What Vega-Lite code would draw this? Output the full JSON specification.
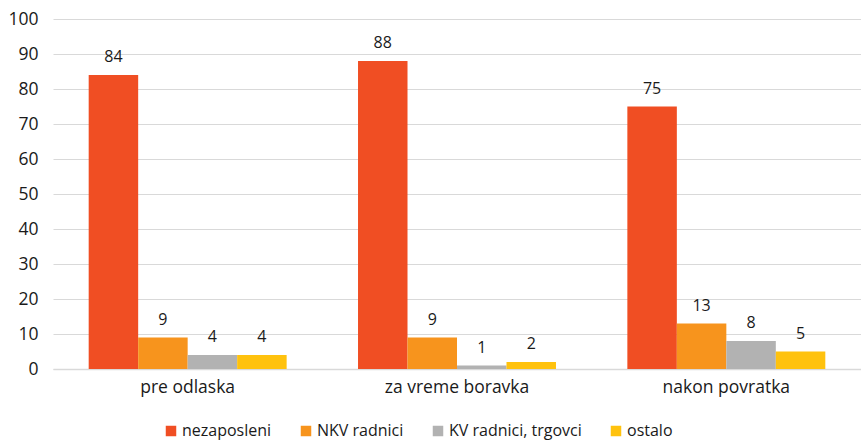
{
  "$schema": "https://vega.github.io/schema/vega-lite/v6.json",
  "width": 808,
  "height": 350,
  "autosize": {"type": "none"},
  "padding": {"left": 53, "top": 19, "right": 0, "bottom": 76},
  "background": "white",
  "config": {
    "font": "Open Sans",
    "view": {"stroke": null}
  },
  "data": {
    "values": [
      {"period": "pre odlaska", "group": "nezaposleni", "value": 84},
      {"period": "pre odlaska", "group": "NKV radnici", "value": 9},
      {"period": "pre odlaska", "group": "KV radnici, trgovci", "value": 4},
      {"period": "pre odlaska", "group": "ostalo", "value": 4},
      {"period": "za vreme boravka", "group": "nezaposleni", "value": 88},
      {"period": "za vreme boravka", "group": "NKV radnici", "value": 9},
      {"period": "za vreme boravka", "group": "KV radnici, trgovci", "value": 1},
      {"period": "za vreme boravka", "group": "ostalo", "value": 2},
      {"period": "nakon povratka", "group": "nezaposleni", "value": 75},
      {"period": "nakon povratka", "group": "NKV radnici", "value": 13},
      {"period": "nakon povratka", "group": "KV radnici, trgovci", "value": 8},
      {"period": "nakon povratka", "group": "ostalo", "value": 5}
    ]
  },
  "encoding": {
    "x": {
      "field": "period",
      "type": "nominal",
      "sort": ["pre odlaska", "za vreme boravka", "nakon povratka"],
      "scale": {"paddingInner": 0.265, "paddingOuter": 0.1325},
      "axis": {
        "title": null,
        "labelAngle": 0,
        "labelFontSize": 17.5,
        "labelColor": "#1a1a1a",
        "labelPadding": 9,
        "ticks": false,
        "domainColor": "#d9d9d9",
        "domainWidth": 1.5,
        "grid": false
      }
    },
    "xOffset": {
      "field": "group",
      "type": "nominal",
      "sort": ["nezaposleni", "NKV radnici", "KV radnici, trgovci", "ostalo"],
      "scale": {"paddingInner": 0, "paddingOuter": 0}
    },
    "y": {
      "field": "value",
      "type": "quantitative",
      "scale": {"domain": [0, 100], "nice": false},
      "axis": {
        "title": null,
        "values": [0, 10, 20, 30, 40, 50, 60, 70, 80, 90, 100],
        "labelOverlap": false,
        "labelFontSize": 17.5,
        "labelColor": "#1a1a1a",
        "labelPadding": 15,
        "ticks": false,
        "domain": false,
        "gridColor": "#d9d9d9",
        "gridWidth": 1.2
      }
    }
  },
  "layer": [
    {
      "mark": {"type": "bar"},
      "encoding": {
        "color": {
          "field": "group",
          "type": "nominal",
          "sort": ["nezaposleni", "NKV radnici", "KV radnici, trgovci", "ostalo"],
          "scale": {
            "domain": ["nezaposleni", "NKV radnici", "KV radnici, trgovci", "ostalo"],
            "range": ["#F04E23", "#F7941D", "#B2B2B2", "#FFC20E"]
          },
          "legend": {
            "title": null,
            "orient": "none",
            "direction": "horizontal",
            "legendX": 110,
            "legendY": 404,
            "symbolType": "square",
            "symbolSize": 110,
            "labelFontSize": 16,
            "labelColor": "#1a1a1a",
            "labelOffset": 3,
            "columnPadding": 26,
            "symbolStrokeWidth": 0
          }
        }
      }
    },
    {
      "mark": {"type": "text", "baseline": "bottom", "dy": -10, "fontSize": 16, "color": "#1a1a1a"},
      "encoding": {
        "text": {"field": "value", "type": "quantitative"}
      }
    }
  ]
}
